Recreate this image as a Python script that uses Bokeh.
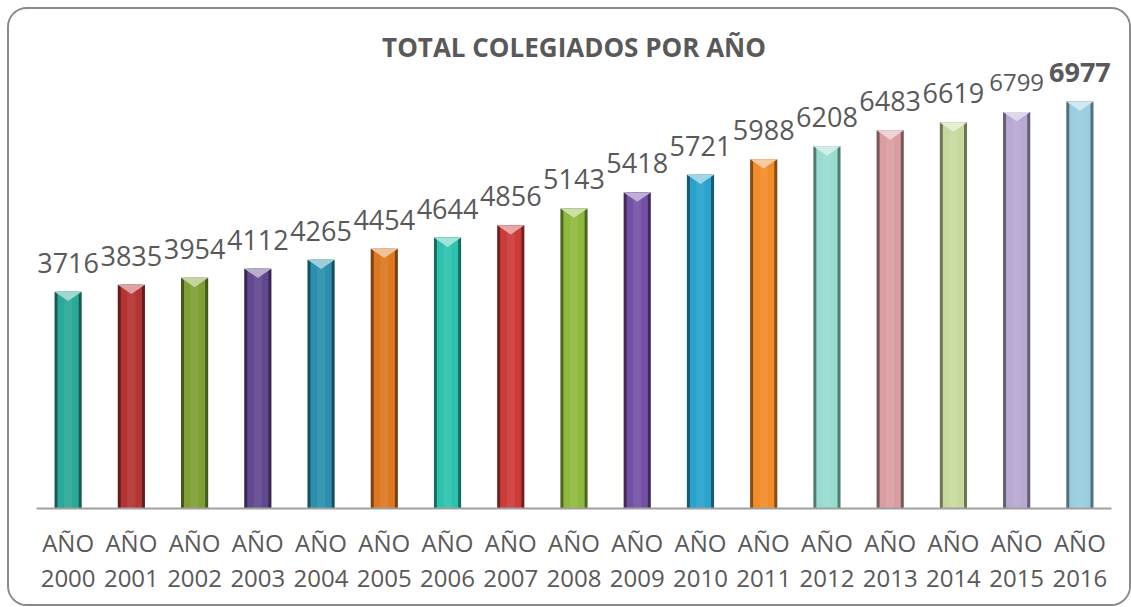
from bokeh.plotting import figure
from bokeh.models import ColumnDataSource, Range1d, FixedTicker, LinearAxis
from bokeh.embed import file_html
from bokeh.resources import INLINE
from bokeh.core.properties import value

# ---- data ----
years = [2000, 2001, 2002, 2003, 2004, 2005, 2006, 2007, 2008,
         2009, 2010, 2011, 2012, 2013, 2014, 2015, 2016]
totals = [3716, 3835, 3954, 4112, 4265, 4454, 4644, 4856, 5143,
          5418, 5721, 5988, 6208, 6483, 6619, 6799, 6977]
bar_colors = ["#2AA898", "#B33433", "#7E9F33", "#62488F", "#2B8FAD", "#DD7820",
              "#2DC2AE", "#CC3A3A", "#8DBA3C", "#7450A5", "#29A2CC", "#F28C29",
              "#98DCCF", "#DA9EA0", "#C7D99D", "#B6A9D2", "#99CDDF"]
title_text = "TOTAL COLEGIADOS POR AÑO"
tick_top = ["AÑO"] * len(years)
tick_bottom = [str(y) for y in years]

# ---- style helpers ----
label_sizes = ["27px"] * 15 + ["24px", "27px"]
label_weights = ["normal"] * 16 + ["bold"]
TEXT = "#595959"
FONT = "Open Sans"


def mix(hexc, other, t):
    a = [int(hexc[i:i + 2], 16) for i in (1, 3, 5)]
    b = [int(other[i:i + 2], 16) for i in (1, 3, 5)]
    c = [round(a[k] * (1 - t) + b[k] * t) for k in range(3)]
    return "#%02x%02x%02x" % tuple(c)


xs = list(range(len(years)))
dark = [mix(c, "#000000", 0.45) for c in bar_colors]
light = [mix(c, "#ffffff", 0.55) for c in bar_colors]
mid_light = [mix(c, "#ffffff", 0.12) for c in bar_colors]

# layout (pixels)
FRAME_H = 499          # frame height in px
PX_PER_UNIT = 407 / 6977
YMAX = FRAME_H / PX_PER_UNIT
TITLE_Y = 462 / PX_PER_UNIT   # title 462 px above the baseline
BW = 0.43
tri_depth = 160  # depth of bevel triangle in data units

src = ColumnDataSource(dict(x=xs, top=totals, color=bar_colors, dark=dark,
                            light=light, midlight=mid_light,
                            lbl=[str(v) for v in totals],
                            size=label_sizes, weight=label_weights))

tri_xs = [[x - BW / 2, x + BW / 2, x] for x in xs]
tri_ys = [[v, v, v - tri_depth] for v in totals]
tri_src = ColumnDataSource(dict(xs=tri_xs, ys=tri_ys, light=light))

p = figure(width=1124, height=599, output_backend="svg", toolbar_location=None,
           x_range=Range1d(-0.5, len(years) - 0.5), y_range=Range1d(0, YMAX),
           min_border_left=27, min_border_right=22, min_border_top=0,
           min_border_bottom=100)
p.styles = {"border": "2px solid #8a8a8a", "border-radius": "20px",
            "box-sizing": "border-box", "margin-left": "7px", "margin-top": "7px",
            "overflow": "hidden"}
p.outline_line_color = None
p.background_fill_color = "white"
p.border_fill_color = "white"
p.xgrid.visible = False
p.ygrid.visible = False
p.yaxis.visible = False

# title
p.text(x=[(len(years) - 1) / 2], y=[TITLE_Y], text=[title_text], text_align="center",
       text_baseline="middle", text_font=value(FONT), text_font_size="26px",
       text_font_style="bold", text_color=TEXT)

# bars: dark edge, body, highlight, bevel triangle
p.vbar(x="x", top="top", bottom=0, width=BW, source=src, fill_color="dark", line_color=None)
p.vbar(x="x", top="top", bottom=0, width=BW * 0.78, source=src, fill_color="color", line_color=None)
p.vbar(x="x", top="top", bottom=0, width=BW * 0.3, source=src, fill_color="midlight",
       line_color=None, fill_alpha=0.6)
p.patches(xs="xs", ys="ys", source=tri_src, fill_color="light", line_color=None)

# value labels
p.text(x="x", y="top", text="lbl", source=src, text_align="center",
       text_baseline="alphabetic", y_offset=-29, text_font=value(FONT),
       text_font_size="size", text_font_style="weight", text_color=TEXT)

# x axes (two rows of tick labels)
ax = p.xaxis[0]
ax.ticker = FixedTicker(ticks=xs)
ax.major_label_overrides = {x: t for x, t in zip(xs, tick_top)}
ax.axis_line_color = "#a0a0a0"
ax.axis_line_width = 2
ax.major_tick_line_color = None
ax.minor_tick_line_color = None
ax.major_label_text_font = FONT
ax.major_label_text_font_size = "24px"
ax.major_label_text_color = TEXT
ax.major_label_standoff = 11

ax2 = LinearAxis(ticker=FixedTicker(ticks=xs),
                 major_label_overrides={x: t for x, t in zip(xs, tick_bottom)})
ax2.axis_line_color = None
ax2.major_tick_line_color = None
ax2.minor_tick_line_color = None
ax2.major_label_text_font = FONT
ax2.major_label_text_font_size = "24px"
ax2.major_label_text_color = TEXT
ax2.major_label_standoff = 2
p.add_layout(ax2, "below")

open("out.html", "w").write(file_html(p, INLINE))
